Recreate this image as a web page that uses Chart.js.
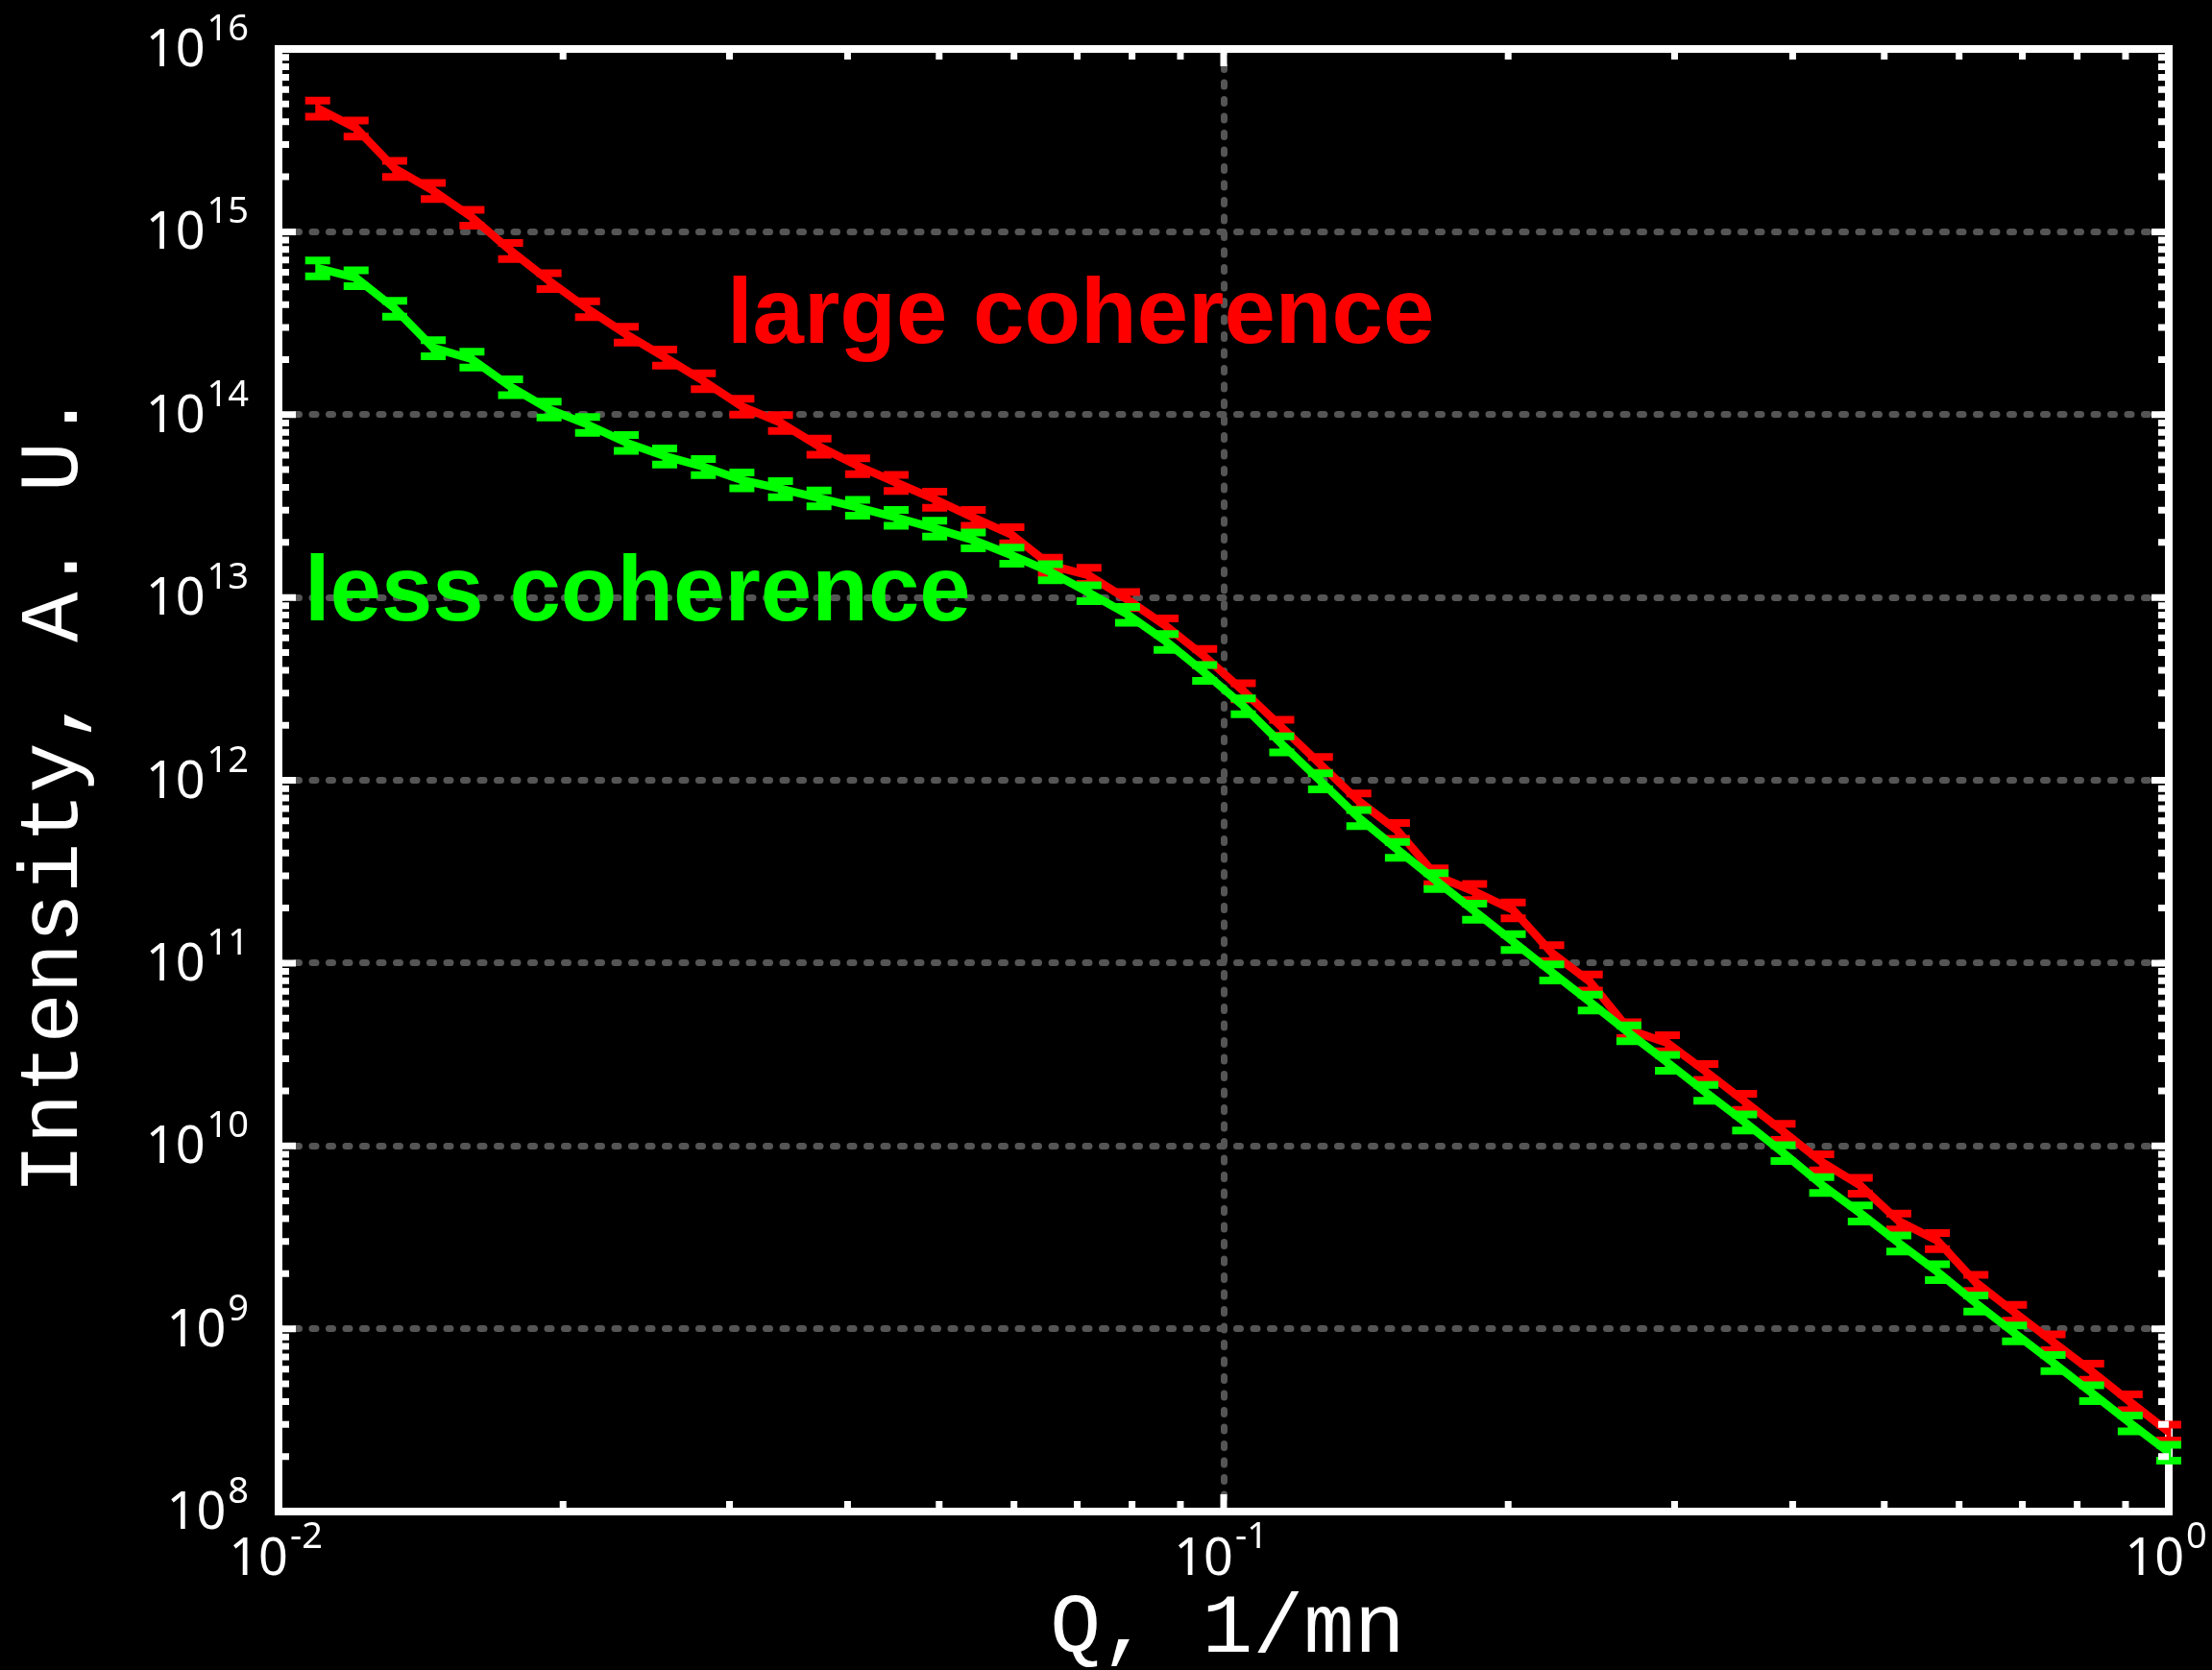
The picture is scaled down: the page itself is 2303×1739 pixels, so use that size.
<!DOCTYPE html>
<html>
<head>
<meta charset="utf-8">
<title>Intensity vs Q</title>
<script src="https://cdn.jsdelivr.net/npm/chart.js@4"></script>
<style>
    html, body { margin: 0; padding: 0; background: #000; }
    canvas { display: block; background: #000; }
</style>
</head>
<body>
<canvas id="sasChart" width="2303" height="1739"></canvas>
<script>
// Q, 1/nm (log spaced sampling)
const qValues = [
    0.01100, 0.01208, 0.01327, 0.01458, 0.01602, 0.01760, 0.01933, 0.02123, 0.02333, 0.02562,
    0.02815, 0.03092, 0.03397, 0.03731, 0.04099, 0.04503, 0.04946, 0.05434, 0.05969, 0.06557,
    0.07203, 0.07912, 0.08692, 0.09548, 0.1049, 0.1152, 0.1266, 0.1390, 0.1527, 0.1678,
    0.1843, 0.2025, 0.2224, 0.2443, 0.2684, 0.2948, 0.3238, 0.3558, 0.3908, 0.4293,
    0.4716, 0.5180, 0.5691, 0.6251, 0.6867, 0.7544, 0.8287, 0.9103, 1.0
];

// intensity, large coherence
const largeCoherence = [
    4.74e15, 3.69e15, 2.22e15, 1.68e15, 1.20e15, 7.89e14, 5.40e14, 3.79e14, 2.75e14, 2.06e14,
    1.53e14, 1.11e14, 9.04e13, 6.71e13, 5.25e13, 4.25e13, 3.44e13, 2.74e13, 2.20e13, 1.50e13,
    1.32e13, 9.73e12, 6.97e12, 4.75e12, 3.08e12, 1.95e12, 1.22e12, 7.69e11, 5.31e11, 3.00e11,
    2.46e11, 1.95e11, 1.14e11, 7.87e10, 4.32e10, 3.66e10, 2.55e10, 1.75e10, 1.20e10, 8.17e9,
    6.08e9, 3.88e9, 3.03e9, 1.79e9, 1.23e9, 8.47e8, 5.85e8, 3.98e8, 2.72e8
];

// intensity, less coherence
const lessCoherence = [
    6.34e14, 5.60e14, 3.81e14, 2.32e14, 2.01e14, 1.42e14, 1.07e14, 8.83e13, 7.03e13, 5.93e13,
    5.19e13, 4.39e13, 3.93e13, 3.50e13, 3.11e13, 2.74e13, 2.39e13, 2.06e13, 1.70e13, 1.38e13,
    1.06e13, 8.07e12, 5.74e12, 3.88e12, 2.55e12, 1.58e12, 9.91e11, 6.24e11, 4.18e11, 2.82e11,
    1.92e11, 1.31e11, 8.93e10, 6.11e10, 4.15e10, 2.86e10, 1.96e10, 1.35e10, 9.18e9, 6.14e9,
    4.29e9, 2.94e9, 2.05e9, 1.38e9, 9.48e8, 6.52e8, 4.46e8, 3.05e8, 2.11e8
];

// relative error on every intensity point
const relErr = 0.1;

// decade ticks (exponents of 10)
const xTickExponents = [-2, -1, 0];
const yTickExponents = [8, 9, 10, 11, 12, 13, 14, 15, 16];
const minorSteps = [2, 3, 4, 5, 6, 7, 8, 9];

// text labels placed in data coordinates
const notes = [
    { text: "large coherence", color: "#ff0000", q: 0.02982, i: 2.47e14 },
    { text: "less coherence", color: "#00ff00", q: 0.01065, i: 7.5e12 },
];

const tickFont = "'Noto Sans', 'DejaVu Sans', sans-serif";
const titleFont = "'Liberation Mono', 'DejaVu Sans Mono', monospace";

// vertical error bars with caps, drawn right after each line
const errorBars = {
    id: "errorBars",
    afterDatasetDraw(chart, args) {
        const ds = chart.data.datasets[args.index];
        const yScale = chart.scales.y;
        const ctx = chart.ctx;
        ctx.save();
        ctx.strokeStyle = ds.borderColor;
        ctx.lineCap = "butt";
        args.meta.data.forEach((pt, i) => {
            const v = ds.data[i].y;
            const top = yScale.getPixelForValue(v * (1 + relErr));
            const bot = yScale.getPixelForValue(v * (1 - relErr));
            ctx.lineWidth = 5;
            ctx.beginPath();
            ctx.moveTo(pt.x, top);
            ctx.lineTo(pt.x, bot);
            ctx.stroke();
            ctx.lineWidth = 8;
            ctx.beginPath();
            ctx.moveTo(pt.x - 13, top);
            ctx.lineTo(pt.x + 13, top);
            ctx.moveTo(pt.x - 13, bot);
            ctx.lineTo(pt.x + 13, bot);
            ctx.stroke();
        });
        ctx.restore();
    },
};

// "10" with a raised exponent
function drawPower(ctx, exp, x, baseY, supY, align) {
    const sup = String(exp);
    ctx.font = `54px ${tickFont}`;
    const baseW = ctx.measureText("10").width;
    ctx.font = `38px ${tickFont}`;
    const supW = ctx.measureText(sup).width;
    let start = x;
    if (align === "right") start = x - baseW - supW;
    if (align === "center") start = x - (baseW + supW) / 2;
    ctx.textAlign = "left";
    ctx.textBaseline = "alphabetic";
    ctx.font = `54px ${tickFont}`;
    ctx.fillText("10", start, baseY);
    ctx.font = `38px ${tickFont}`;
    ctx.fillText(sup, start + baseW + 2, supY);
}

const frameAndLabels = {
    id: "frameAndLabels",
    beforeDraw(chart) {
        // round caps turn the dashed grid into dots
        chart.ctx.lineCap = "round";
    },
    beforeDatasetsDraw(chart) {
        const { ctx, chartArea: a } = chart;
        ctx.save();
        ctx.lineCap = "butt";
        ctx.strokeStyle = "#ffffff";
        ctx.lineWidth = 8;
        ctx.strokeRect(a.left, a.top, a.right - a.left, a.bottom - a.top);
        ctx.restore();
    },
    afterDatasetsDraw(chart) {
        const { ctx, chartArea: a } = chart;
        const xs = chart.scales.x;
        const ys = chart.scales.y;
        ctx.save();
        ctx.lineCap = "butt";

        // inward tick marks on all four sides
        ctx.strokeStyle = "#ffffff";
        ctx.lineWidth = 7;
        ctx.beginPath();
        yTickExponents.forEach((e, k) => {
            const yMajor = ys.getPixelForValue(Math.pow(10, e));
            if (k > 0 && k < yTickExponents.length - 1) {
                ctx.moveTo(a.left, yMajor); ctx.lineTo(a.left + 18, yMajor);
                ctx.moveTo(a.right, yMajor); ctx.lineTo(a.right - 18, yMajor);
            }
            if (k === yTickExponents.length - 1) return;
            minorSteps.forEach((m) => {
                const y = ys.getPixelForValue(m * Math.pow(10, e));
                ctx.moveTo(a.left, y); ctx.lineTo(a.left + 11, y);
                ctx.moveTo(a.right, y); ctx.lineTo(a.right - 11, y);
            });
        });
        xTickExponents.forEach((e, k) => {
            const xMajor = xs.getPixelForValue(Math.pow(10, e));
            if (k > 0 && k < xTickExponents.length - 1) {
                ctx.moveTo(xMajor, a.bottom); ctx.lineTo(xMajor, a.bottom - 18);
                ctx.moveTo(xMajor, a.top); ctx.lineTo(xMajor, a.top + 18);
            }
            if (k === xTickExponents.length - 1) return;
            minorSteps.forEach((m) => {
                const x = xs.getPixelForValue(m * Math.pow(10, e));
                ctx.moveTo(x, a.bottom); ctx.lineTo(x, a.bottom - 11);
                ctx.moveTo(x, a.top); ctx.lineTo(x, a.top + 11);
            });
        });
        ctx.stroke();

        // tick labels
        ctx.fillStyle = "#ffffff";
        yTickExponents.forEach((e) => {
            const y = ys.getPixelForValue(Math.pow(10, e));
            drawPower(ctx, e, a.left - 33, y + 18, y - 9, "right");
        });
        xTickExponents.forEach((e) => {
            const x = xs.getPixelForValue(Math.pow(10, e));
            drawPower(ctx, e, x - 4, a.bottom + 66, a.bottom + 38, "center");
        });

        // axis titles
        ctx.font = `88px ${titleFont}`;
        ctx.textAlign = "center";
        ctx.textBaseline = "alphabetic";
        ctx.fillText("Q, 1/mn", (a.left + a.right) / 2 + 4, 1720);
        ctx.save();
        ctx.translate(80, (a.top + a.bottom) / 2 + 13);
        ctx.rotate(-Math.PI / 2);
        ctx.font = `87px ${titleFont}`;
        ctx.fillText("Intensity, A. U.", 0, 0);
        ctx.restore();

        // curve labels
        ctx.font = "bold 96px 'Liberation Sans', Arial, sans-serif";
        ctx.textAlign = "left";
        notes.forEach((n) => {
            ctx.fillStyle = n.color;
            ctx.fillText(n.text, xs.getPixelForValue(n.q), ys.getPixelForValue(n.i));
        });
        ctx.restore();
    },
};

function decadeTicks(exps) {
    return (scale) => {
        scale.ticks = exps.map((e) => ({ value: Math.pow(10, e) }));
    };
}

const gridStyle = { color: "#555555", lineWidth: 7, drawTicks: false };
const borderStyle = { display: false, dash: [4, 13.5] };

new Chart(document.getElementById("sasChart").getContext("2d"), {
    type: "line",
    data: {
        datasets: [
            {
                label: "large coherence",
                data: qValues.map((q, i) => ({ x: q, y: largeCoherence[i] })),
                borderColor: "#ff0000",
                borderWidth: 8.5,
                pointRadius: 0,
                tension: 0,
                order: 1,
            },
            {
                label: "less coherence",
                data: qValues.map((q, i) => ({ x: q, y: lessCoherence[i] })),
                borderColor: "#00ff00",
                borderWidth: 8.5,
                pointRadius: 0,
                tension: 0,
                order: 0,
            },
        ],
    },
    options: {
        responsive: false,
        animation: false,
        layout: { padding: { left: 290, right: 45, top: 51, bottom: 165 } },
        scales: {
            x: {
                type: "logarithmic",
                min: 0.01,
                max: 1,
                ticks: { display: false },
                grid: gridStyle,
                border: borderStyle,
                afterBuildTicks: decadeTicks(xTickExponents),
            },
            y: {
                type: "logarithmic",
                min: 1e8,
                max: 1e16,
                ticks: { display: false },
                grid: gridStyle,
                border: borderStyle,
                afterBuildTicks: decadeTicks(yTickExponents),
            },
        },
        plugins: {
            legend: { display: false },
            tooltip: { enabled: false },
        },
    },
    plugins: [errorBars, frameAndLabels],
});
</script>
</body>
</html>
